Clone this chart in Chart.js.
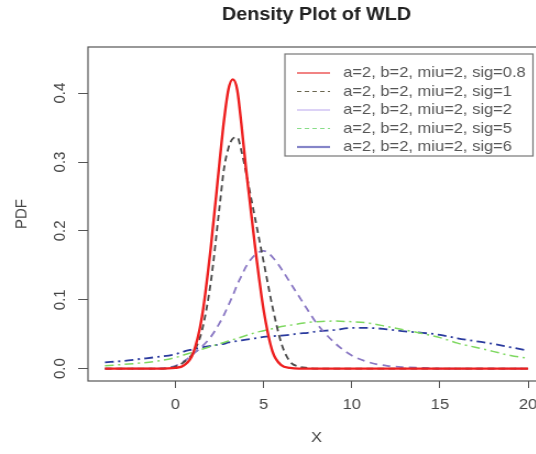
<!DOCTYPE html>
<html>
<head>
<meta charset="utf-8">
<script src="https://cdn.jsdelivr.net/npm/chart.js@4/dist/chart.umd.min.js"></script>
<style>
  html, body { margin: 0; padding: 0; background: #fff; overflow: hidden; }
  #c { transform: scaleX(1.1); transform-origin: 0 0; display: block; }
</style>
</head>
<body>
<canvas id="c" width="498" height="454"></canvas>
<script>
const xs = [-4, -3, -2, -1, 0, 0.5, 1, 1.5, 2, 2.5, 2.75, 3, 3.25, 3.5, 3.75, 4, 4.5, 5, 5.5, 6, 6.5, 7, 7.5, 8, 9, 10, 11, 12, 13, 14, 15, 16, 17, 18, 19, 20]
const sig08 = [0, 0, 0, 0, 0.001, 0.005, 0.022, 0.075, 0.175, 0.30, 0.36, 0.405, 0.42, 0.405, 0.352, 0.29, 0.18, 0.085, 0.025, 0.005, 0.001, 0, 0, 0, 0, 0, 0, 0, 0, 0, 0, 0, 0, 0, 0, 0]
const sig1 = [0, 0, 0, 0, 0.003, 0.01, 0.023, 0.055, 0.125, 0.235, 0.29, 0.32, 0.334, 0.336, 0.315, 0.285, 0.22, 0.155, 0.09, 0.037, 0.01, 0.003, 0.001, 0, 0, 0, 0, 0, 0, 0, 0, 0, 0, 0, 0, 0]
const sig2 = [0, 0, 0, 0, 0.004, 0.011, 0.021, 0.032, 0.046, 0.066, 0.078, 0.092, 0.106, 0.122, 0.135, 0.148, 0.165, 0.171, 0.162, 0.145, 0.125, 0.105, 0.085, 0.066, 0.038, 0.019, 0.009, 0.004, 0.002, 0.001, 0, 0, 0, 0, 0, 0]
const sig5 = [0.004, 0.006, 0.008, 0.011, 0.016, 0.02, 0.024, 0.028, 0.032, 0.036, 0.038, 0.04, 0.042, 0.044, 0.046, 0.048, 0.052, 0.055, 0.058, 0.061, 0.063, 0.065, 0.067, 0.068, 0.069, 0.068, 0.066, 0.061, 0.056, 0.051, 0.045, 0.037, 0.031, 0.025, 0.019, 0.015]
const sig6 = [0.009, 0.011, 0.014, 0.017, 0.021, 0.025, 0.028, 0.031, 0.033, 0.035, 0.036, 0.038, 0.039, 0.04, 0.041, 0.042, 0.044, 0.046, 0.047, 0.048, 0.049, 0.051, 0.052, 0.054, 0.056, 0.059, 0.059, 0.057, 0.054, 0.052, 0.049, 0.044, 0.04, 0.036, 0.031, 0.026]
const labels = ['a=2, b=2, miu=2, sig=0.8', 'a=2, b=2, miu=2, sig=1', 'a=2, b=2, miu=2, sig=2', 'a=2, b=2, miu=2, sig=5', 'a=2, b=2, miu=2, sig=6']
const xTicks = [0, 5, 10, 15, 20]
const yTicks = [0, 0.1, 0.2, 0.3, 0.4]

// legend keys in the reference don't match the curve styles exactly
const legendKeys = [
  { color: '#e83030', width: 1.2, dash: [] },
  { color: '#6a6650', width: 1.2, dash: [4, 3] },
  { color: '#c4b4f0', width: 1.2, dash: [] },
  { color: '#88dd88', width: 1.2, dash: [4, 3] },
  { color: '#8585c8', width: 2.2, dash: [] }
]

Chart.defaults.font.family = "'Liberation Sans', Arial, sans-serif"
Chart.defaults.font.size = 15
Chart.defaults.color = '#444'

const pts = ys => xs.map((x, i) => ({ x: x, y: ys[i] }))

const boxPlugin = {
  id: 'box',
  afterDraw(chart) {
    const { ctx, chartArea: a } = chart
    ctx.save()
    ctx.strokeStyle = '#555'
    ctx.lineWidth = 1.2
    ctx.strokeRect(a.left, a.top, a.right - a.left, a.bottom - a.top)
    // legend
    const w = 225.5, h = 102
    const left = a.right - 11 - w, top = a.top + 7
    ctx.fillStyle = '#fff'
    ctx.fillRect(left, top, w, h)
    ctx.strokeStyle = '#777'
    ctx.lineWidth = 1.2
    ctx.strokeRect(left, top, w, h)
    ctx.font = "15px 'Liberation Sans', Arial, sans-serif"
    ctx.textBaseline = 'middle'
    ctx.fillStyle = '#555'
    labels.forEach((t, i) => {
      const y = top + 19 + i * 18.5
      const k = legendKeys[i]
      ctx.strokeStyle = k.color
      ctx.lineWidth = k.width
      ctx.setLineDash(k.dash)
      ctx.beginPath()
      ctx.moveTo(left + 11, y)
      ctx.lineTo(left + 41, y)
      ctx.stroke()
      ctx.setLineDash([])
      ctx.fillText(t, left + 53, y)
    })
    ctx.restore()
  }
}

new Chart(document.getElementById('c'), {
  type: 'line',
  data: {
    datasets: [
      { label: labels[0], data: pts(sig08), borderColor: '#ee2020', borderWidth: 2.4 },
      { label: labels[1], data: pts(sig1), borderColor: '#4a4a4a', borderWidth: 1.8, borderDash: [6, 4] },
      { label: labels[2], data: pts(sig2), borderColor: '#8a78c4', borderWidth: 1.8, borderDash: [7, 5] },
      { label: labels[3], data: pts(sig5), borderColor: '#7ed860', borderWidth: 1.5, borderDash: [8, 4, 2, 4] },
      { label: labels[4], data: pts(sig6), borderColor: '#2a3a9e', borderWidth: 1.8, borderDash: [8, 4, 2, 4] }
    ]
  },
  options: {
    responsive: false,
    animation: false,
    devicePixelRatio: 1,
    layout: { padding: { left: 0, right: 2.5, top: 0, bottom: 0 } },
    elements: {
      point: { radius: 0 },
      line: { cubicInterpolationMode: 'monotone', fill: false }
    },
    plugins: {
      legend: { display: false },
      tooltip: { enabled: false },
      title: {
        display: true,
        text: 'Density Plot of WLD',
        fullSize: false,
        color: '#222',
        font: { size: 18, weight: 'bold' },
        padding: { top: 4.2, bottom: 21.2 }
      }
    },
    scales: {
      x: {
        type: 'linear',
        min: -4.96,
        max: 20.96,
        afterBuildTicks: s => { s.ticks = xTicks.map(v => ({ value: v })) },
        afterFit: s => { s.height = 73 },
        ticks: { padding: 8, color: '#444', callback: v => String(v) },
        grid: { drawOnChartArea: false, tickLength: 7, tickColor: '#555' },
        border: { display: false },
        title: { display: true, text: 'X', color: '#444', font: { size: 15 }, padding: { top: 0, bottom: 7 } }
      },
      y: {
        min: -0.018,
        max: 0.467,
        afterBuildTicks: s => { s.ticks = yTicks.map(v => ({ value: v })) },
        afterFit: s => { s.width = 80 },
        ticks: { padding: 6, color: '#444', minRotation: 90, maxRotation: 90, crossAlign: 'center', callback: v => v.toFixed(1) },
        grid: { drawOnChartArea: false, tickLength: 9, tickColor: '#555' },
        border: { display: false },
        title: { display: true, text: 'PDF', color: '#444', font: { size: 15 }, padding: { top: 11, bottom: 0 } }
      }
    }
  },
  plugins: [boxPlugin]
})
</script>
</body>
</html>
